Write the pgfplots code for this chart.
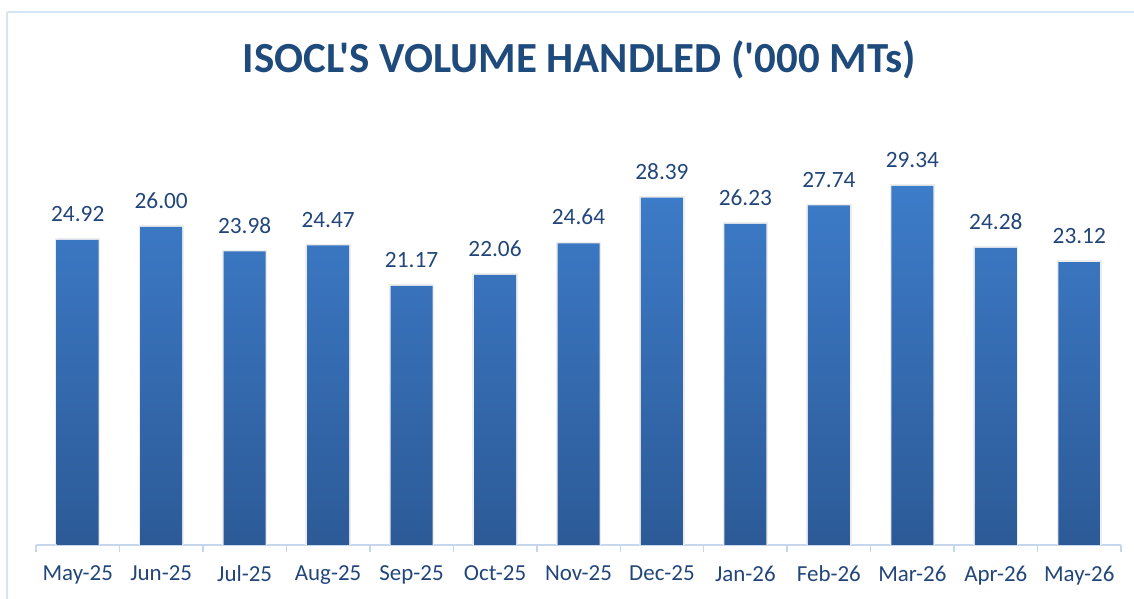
\documentclass[border=0pt]{standalone}
\usepackage{pgfplots}
\pgfplotsset{compat=1.18}
\usepackage{fontspec}
\setmainfont{Carlito}[Ligatures=TeXOff]
\definecolor{titleblue}{HTML}{1F4A7C}
\definecolor{lblblue}{HTML}{22467A}
\definecolor{bartop}{HTML}{3D7CC9}
\definecolor{barbot}{HTML}{2C5A97}
\definecolor{frameblue}{HTML}{D6E4F5}
\definecolor{axisline}{HTML}{C6D6EC}
\pgfplotstableread{
x val
0 24.92
1 26.00
2 23.98
3 24.47
4 21.17
5 22.06
6 24.64
7 28.39
8 26.23
9 27.74
10 29.34
11 24.28
12 23.12
}\vol
\begin{document}
\begin{tikzpicture}
\path[use as bounding box] (0pt,0pt) rectangle (850.5pt,449.25pt);
\draw[frameblue, line width=1.5pt] (5.25pt,440.25pt) -- (860pt,440.25pt) (5.25pt,440.25pt) -- (5.25pt,-10pt);
\node[anchor=base, font=\fontsize{32.2}{38}\selectfont\bfseries, text=titleblue, inner sep=0pt] at (434.6pt,394.5pt) {ISOCL'S VOLUME HANDLED ('000 MTs)};
\begin{axis}[
  at={(27pt,40.5pt)}, anchor=south west,
  width=813.75pt, height=321.3pt, scale only axis,
  xmin=-0.5, xmax=12.5, ymin=0, ymax=35,
  axis y line=none, axis x line=bottom,
  axis line style={-, draw=axisline, line width=1.1pt},
  xtick={0,...,12},
  xticklabels={May-25,Jun-25,Jul-25,Aug-25,Sep-25,Oct-25,Nov-25,Dec-25,Jan-26,Feb-26,Mar-26,Apr-26,May-26},
  major tick length=0pt,
  extra x ticks={-0.5,0.5,...,12.5},
  extra x tick labels={},
  extra x tick style={major tick length=5.5pt, tick style={draw=axisline, line width=1.1pt}},
  tick align=outside,
  xticklabel style={font=\fontsize{17.2}{20}\selectfont, text=lblblue, inner sep=0pt, anchor=north, yshift=-15.5pt},
  ybar, bar width=31.5pt,
  nodes near coords,
  nodes near coords style={font=\fontsize{17.5}{20}\selectfont, text=lblblue, inner sep=0pt, anchor=south, yshift=13.5pt},
  /pgf/number format/.cd, fixed, fixed zerofill, precision=2, assume math mode=true,
]
\addplot[draw=none, top color=bartop, bottom color=barbot,
  preaction={draw=black!7, line width=2.5pt, fill=none}] table[x=x,y=val] {\vol};
\end{axis}
\end{tikzpicture}
\end{document}
